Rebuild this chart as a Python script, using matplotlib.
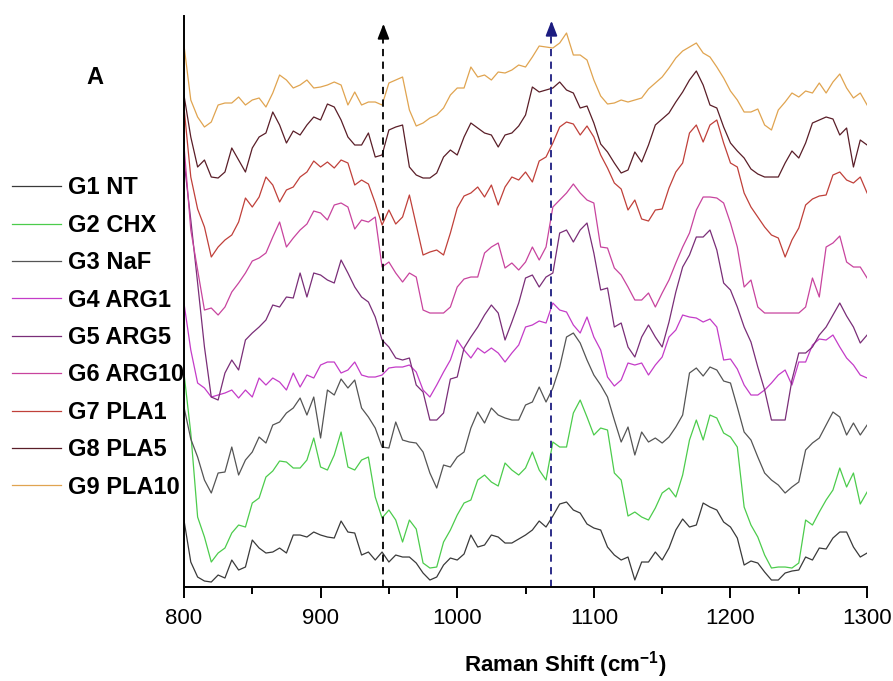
import numpy as np
import matplotlib.pyplot as plt
from matplotlib import font_manager

# fonts: narrow bold like the original if available
names = {f.name for f in font_manager.fontManager.ttflist}
narrow = 'Liberation Sans Narrow' if 'Liberation Sans Narrow' in names else 'Liberation Sans'
plt.rcParams['mathtext.fontset'] = 'custom'
plt.rcParams['mathtext.rm'] = narrow
plt.rcParams['mathtext.bf'] = narrow + ':bold'
if narrow == 'Liberation Sans':
    leg_size, lab_size, tick_size = 17, 16, 16
else:
    leg_size, lab_size, tick_size = 20, 19, 17

# Raman shift grid (cm-1)
shift = np.arange(800, 1301, 5)

# intensities (arbitrary units, offset stacked)
g1_nt = [67, 25, 10, 6, 5, 12, 9, 27, 17, 20, 47, 39, 34, 35, 39, 34, 52, 52, 50, 55, 52, 50, 49, 66, 55, 54, 32, 35, 27, 35, 25, 32, 30, 30,
         24, 14, 7, 10, 22, 29, 27, 33, 52, 40, 42, 52, 50, 44, 44, 48, 52, 57, 66, 60, 71, 83, 85, 77, 74, 63, 59, 57, 40, 32, 27, 30, 7,
         25, 25, 35, 27, 39, 57, 68, 60, 62, 84, 80, 77, 65, 60, 49, 22, 26, 24, 15, 7, 7, 14, 16, 17, 30, 27, 39, 38, 49, 55, 55, 40, 30, 34]
g2_chx = [214, 154, 70, 50, 25, 34, 39, 54, 62, 60, 84, 89, 110, 116, 126, 125, 119, 119, 127, 149, 120, 117, 132, 155, 120, 117, 127, 130, 90, 69, 77, 67, 45, 67,
          58, 24, 19, 20, 45, 57, 72, 84, 87, 107, 112, 105, 101, 124, 117, 112, 119, 135, 117, 107, 145, 140, 140, 174, 187, 170, 152, 159, 157, 114, 107, 71, 75,
          70, 67, 79, 94, 99, 90, 112, 147, 167, 147, 172, 169, 154, 150, 140, 80, 62, 50, 32, 19, 20, 20, 19, 24, 67, 62, 75, 87, 97, 119, 100, 114, 83, 95]
g3_naf = [180, 148, 130, 107, 94, 114, 115, 140, 112, 127, 135, 150, 144, 162, 165, 174, 179, 189, 172, 190, 149, 197, 192, 208, 199, 207, 179, 170, 159, 140, 139, 165, 147, 145,
          144, 135, 114, 99, 122, 120, 130, 135, 159, 175, 164, 179, 172, 169, 167, 167, 182, 185, 200, 185, 199, 220, 250, 254, 244, 227, 212, 202, 190, 167, 145, 160, 132,
          155, 145, 149, 144, 150, 160, 172, 214, 219, 211, 220, 217, 206, 204, 180, 155, 147, 130, 114, 107, 102, 94, 100, 105, 137, 144, 149, 162, 175, 170, 152, 164, 152, 162]
g4_arg1 = [284, 237, 204, 199, 190, 192, 194, 197, 189, 197, 190, 209, 202, 209, 205, 197, 214, 200, 212, 209, 222, 225, 225, 214, 217, 225, 212, 210, 210, 212, 219, 220, 220, 222,
           215, 197, 190, 202, 215, 227, 247, 237, 229, 239, 234, 239, 234, 225, 234, 242, 260, 262, 266, 264, 284, 277, 275, 262, 254, 270, 250, 237, 210, 201, 207, 224, 222,
           224, 212, 222, 230, 250, 257, 272, 270, 269, 265, 268, 260, 227, 228, 218, 202, 192, 192, 197, 204, 212, 217, 202, 225, 225, 242, 248, 247, 252, 240, 229, 222, 212, 209]
g5_arg5 = [427, 367, 304, 240, 190, 187, 214, 227, 217, 247, 254, 260, 267, 282, 280, 290, 289, 314, 290, 314, 312, 307, 304, 327, 314, 300, 290, 285, 270, 247, 240, 229, 227, 229,
           202, 195, 167, 167, 174, 208, 210, 239, 250, 260, 272, 282, 274, 247, 265, 284, 309, 312, 300, 310, 314, 354, 357, 345, 357, 364, 334, 297, 299, 260, 264, 240, 230,
           250, 262, 250, 240, 265, 295, 320, 332, 350, 350, 357, 337, 304, 297, 280, 260, 245, 220, 197, 167, 167, 167, 207, 234, 234, 240, 252, 260, 272, 284, 271, 260, 244, 252]
g6_arg10 = [442, 357, 317, 277, 279, 272, 280, 295, 304, 314, 326, 329, 334, 350, 365, 340, 349, 357, 363, 376, 374, 367, 382, 384, 380, 358, 367, 365, 370, 320, 325, 314, 305, 314,
            310, 277, 274, 274, 274, 280, 300, 308, 310, 310, 334, 340, 344, 319, 324, 317, 325, 340, 327, 340, 380, 387, 394, 403, 394, 387, 384, 340, 339, 319, 312, 300, 287,
            287, 294, 280, 294, 307, 324, 340, 354, 377, 390, 390, 389, 384, 364, 340, 300, 307, 280, 274, 274, 274, 274, 274, 274, 280, 309, 290, 340, 344, 351, 325, 320, 320, 309]
g7_pla1 = [480, 410, 378, 360, 330, 340, 347, 352, 365, 389, 380, 390, 410, 402, 385, 397, 400, 410, 415, 426, 420, 425, 419, 427, 424, 402, 407, 403, 384, 362, 377, 363, 370, 392,
           362, 332, 335, 337, 332, 354, 379, 391, 394, 400, 390, 402, 382, 400, 410, 407, 415, 405, 426, 430, 444, 460, 465, 463, 452, 461, 450, 432, 419, 404, 398, 377, 387,
           368, 366, 377, 378, 399, 415, 424, 454, 462, 445, 462, 467, 444, 424, 420, 394, 380, 370, 360, 352, 349, 330, 347, 359, 382, 388, 391, 392, 412, 415, 407, 404, 410, 394]
g8_pla5 = [492, 450, 420, 427, 410, 409, 415, 439, 427, 415, 439, 450, 454, 475, 462, 444, 456, 452, 462, 470, 467, 483, 480, 467, 450, 442, 442, 454, 430, 432, 457, 460, 462, 420,
           412, 409, 409, 414, 430, 437, 432, 450, 464, 459, 454, 452, 440, 452, 454, 461, 472, 500, 495, 497, 499, 505, 497, 494, 479, 481, 464, 443, 435, 424, 414, 417, 435,
           425, 442, 462, 468, 474, 485, 495, 507, 516, 502, 482, 479, 460, 444, 436, 429, 418, 413, 410, 410, 410, 424, 436, 429, 444, 464, 467, 470, 468, 452, 459, 420, 447, 442]
g9_pla10 = [542, 487, 470, 460, 465, 482, 484, 484, 490, 482, 487, 489, 480, 494, 512, 507, 499, 502, 507, 499, 500, 502, 505, 502, 482, 495, 482, 485, 485, 482, 504, 507, 510, 477,
            461, 464, 469, 472, 479, 492, 499, 499, 520, 510, 512, 507, 515, 514, 517, 522, 520, 530, 541, 540, 539, 544, 554, 532, 532, 527, 507, 491, 483, 484, 487, 485, 487,
            489, 498, 504, 510, 519, 529, 536, 540, 544, 534, 530, 520, 509, 496, 487, 475, 475, 478, 462, 457, 477, 485, 494, 490, 496, 494, 504, 494, 505, 513, 499, 489, 494, 482]

labels = ['G1 NT', 'G2 CHX', 'G3 NaF', 'G4 ARG1', 'G5 ARG5', 'G6 ARG10', 'G7 PLA1', 'G8 PLA5', 'G9 PLA10']
series = [g1_nt, g2_chx, g3_naf, g4_arg1, g5_arg5, g6_arg10, g7_pla1, g8_pla5, g9_pla10]
colors = ['#3a3a3a', '#4ccc4c', '#555555', '#c43cc8', '#7a2e78', '#c8449e', '#c0403a', '#5a1e28', '#e0a450']

# marker lines (cm-1)
band_black = 946
band_blue = 1069

fig = plt.figure(figsize=(8.93, 6.81), dpi=100)
ax = fig.add_axes([0.206, 0.138, 0.765, 0.8385])

lines = []
for y, c, l in zip(series, colors, labels):
    ln, = ax.plot(shift, y, color=c, lw=0.9, label=l)
    lines.append(ln)

ax.set_xlim(800, 1300)
ax.set_ylim(0, 571)
ax.spines['top'].set_visible(False)
ax.spines['right'].set_visible(False)
ax.spines['left'].set_linewidth(1.4)
ax.spines['bottom'].set_linewidth(1.4)
ax.set_yticks([])
ax.set_xticks(range(800, 1301, 100))
ax.set_xticks(range(850, 1300, 100), minor=True)
ax.tick_params(axis='x', which='major', direction='out', length=8, width=1.4, labelsize=tick_size, pad=7)
ax.tick_params(axis='x', which='minor', direction='out', length=5, width=1.4)
for lbl in ax.get_xticklabels():
    lbl.set_fontfamily(narrow)

# dashed arrows
ax.plot([band_black, band_black], [0, 548], ls=(0, (4, 3)), color='black', lw=1.3)
ax.annotate('', xy=(band_black, 566), xytext=(band_black, 546),
            arrowprops=dict(arrowstyle='-|>,head_width=0.35,head_length=0.9', color='black', lw=1.3))
ax.plot([band_blue, band_blue], [0, 551], ls=(0, (4, 3)), color='#1c1c80', lw=1.3)
ax.annotate('', xy=(band_blue, 569), xytext=(band_blue, 549),
            arrowprops=dict(arrowstyle='-|>,head_width=0.35,head_length=0.9', color='#1c1c80', lw=1.3))

fig.legend(handles=lines, loc='upper left', bbox_to_anchor=(0.013, 0.741),
           prop=dict(family=narrow, weight='bold', size=leg_size), frameon=False,
           handlelength=2.1, handletextpad=0.3, labelspacing=0.61, borderpad=0, borderaxespad=0)

fig.text(95 / 893, 1 - 78 / 681, 'A', fontsize=17, fontweight='bold', family='Liberation Sans',
         ha='center', va='center')
fig.text(565 / 893, 1 - 665 / 681, r'Raman Shift (cm$^{\mathbf{-1}}$)', fontsize=lab_size, fontweight='bold',
         family=narrow, ha='center', va='center')

fig.savefig('out.png', dpi=100)
